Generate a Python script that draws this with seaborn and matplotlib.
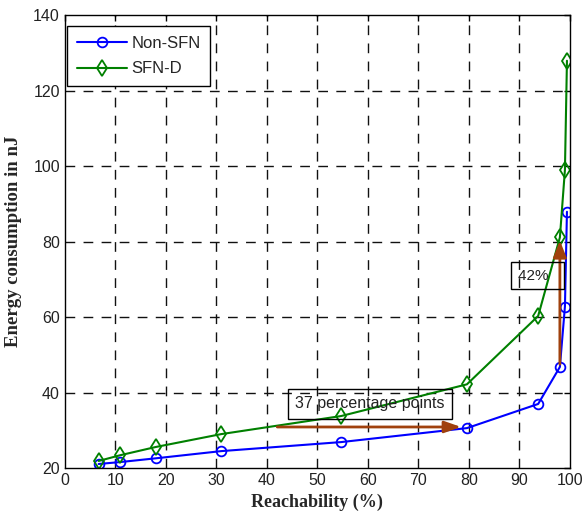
import numpy as np
import pandas as pd
import matplotlib
matplotlib.use("Agg")
import matplotlib.pyplot as plt
import seaborn as sns

reach_non_sfn = [6.7, 10.9, 18.0, 30.9, 54.7, 79.6, 93.7, 98.0, 99.0, 99.4]
energy_non_sfn = [21.1, 21.6, 22.6, 24.5, 26.9, 30.6, 37.0, 46.8, 62.8, 87.9]
reach_sfn_d = [6.7, 10.9, 18.0, 30.9, 54.7, 79.6, 93.7, 98.0, 99.0, 99.4]
energy_sfn_d = [21.9, 23.4, 25.6, 29.0, 33.8, 42.2, 60.3, 81.1, 99.0, 127.9]

x_ticks = [0, 10, 20, 30, 40, 50, 60, 70, 80, 90, 100]
y_ticks = [20, 40, 60, 80, 100, 120, 140]

sns.set_style("white")
plt.rcParams["font.family"] = ["Liberation Sans", "DejaVu Sans"]

fig = plt.figure(figsize=(5.84, 5.19), dpi=100)
ax = fig.add_axes([0.111, 0.098, 0.865, 0.873])

sns.lineplot(x=reach_non_sfn, y=energy_non_sfn, ax=ax, color="#0000ff", lw=1.5,
             marker="o", markersize=7, markerfacecolor="none", markeredgecolor="#0000ff",
             markeredgewidth=1.3, label="Non-SFN", sort=False)
sns.lineplot(x=reach_sfn_d, y=energy_sfn_d, ax=ax, color="#008000", lw=1.5,
             marker="d", markersize=8, markerfacecolor="none", markeredgecolor="#008000",
             markeredgewidth=1.3, label="SFN-D", sort=False)

arrow_col = "#a0410d"
ax.annotate("", xy=(79.0, 30.9), xytext=(41.5, 30.9),
            arrowprops=dict(arrowstyle="-|>,head_length=1.0,head_width=0.35",
                            color=arrow_col, lw=2))
ax.annotate("", xy=(98.0, 81.0), xytext=(98.0, 46.8),
            arrowprops=dict(arrowstyle="-|>,head_length=1.0,head_width=0.4",
                            color=arrow_col, lw=2))
ax.text(60.4, 37.0, "37 percentage points", fontsize=11.5, ha="center", va="center",
        color="#222222",
        bbox=dict(boxstyle="square,pad=0.45", fc="none", ec="black", lw=1))
ax.text(93.6, 71.0, "42%  ", fontsize=11, ha="center", va="center",
        color="#222222",
        bbox=dict(boxstyle="square,pad=0.45", fc="none", ec="black", lw=1))

ax.set_xlim(0, 100)
ax.set_ylim(20, 140)
ax.set_xticks(x_ticks)
ax.set_yticks(y_ticks)
ax.tick_params(direction="in", length=4, labelsize=11.5, colors="black",
               labelcolor="#222222", width=1)
ax.tick_params(top=True, right=True)

for v in x_ticks[1:-1]:
    ax.axvline(v, color="#111111", lw=1, ls=(0, (7, 6)), zorder=0)
for v in y_ticks[1:-1]:
    ax.axhline(v, color="#111111", lw=1, ls=(0, (7, 6)), zorder=0)

for s in ax.spines.values():
    s.set_color("black")
    s.set_linewidth(1)

ax.set_xlabel("Reachability (%)", fontsize=13, fontweight="bold",
              family=["Liberation Serif", "DejaVu Serif"], labelpad=4)
ax.set_ylabel("Energy consumption in nJ", fontsize=13.5, fontweight="bold",
              family=["Liberation Serif", "DejaVu Serif"], labelpad=8)

leg = ax.legend(loc="upper left", fontsize=12, frameon=True, fancybox=False,
                edgecolor="black", framealpha=1, handlelength=3.0,
                bbox_to_anchor=(0.005, 0.975),
                borderaxespad=0.0, borderpad=0.55, labelspacing=0.65,
                handletextpad=0.3)
leg.get_frame().set_linewidth(1)

fig.savefig("out.png", dpi=100)
